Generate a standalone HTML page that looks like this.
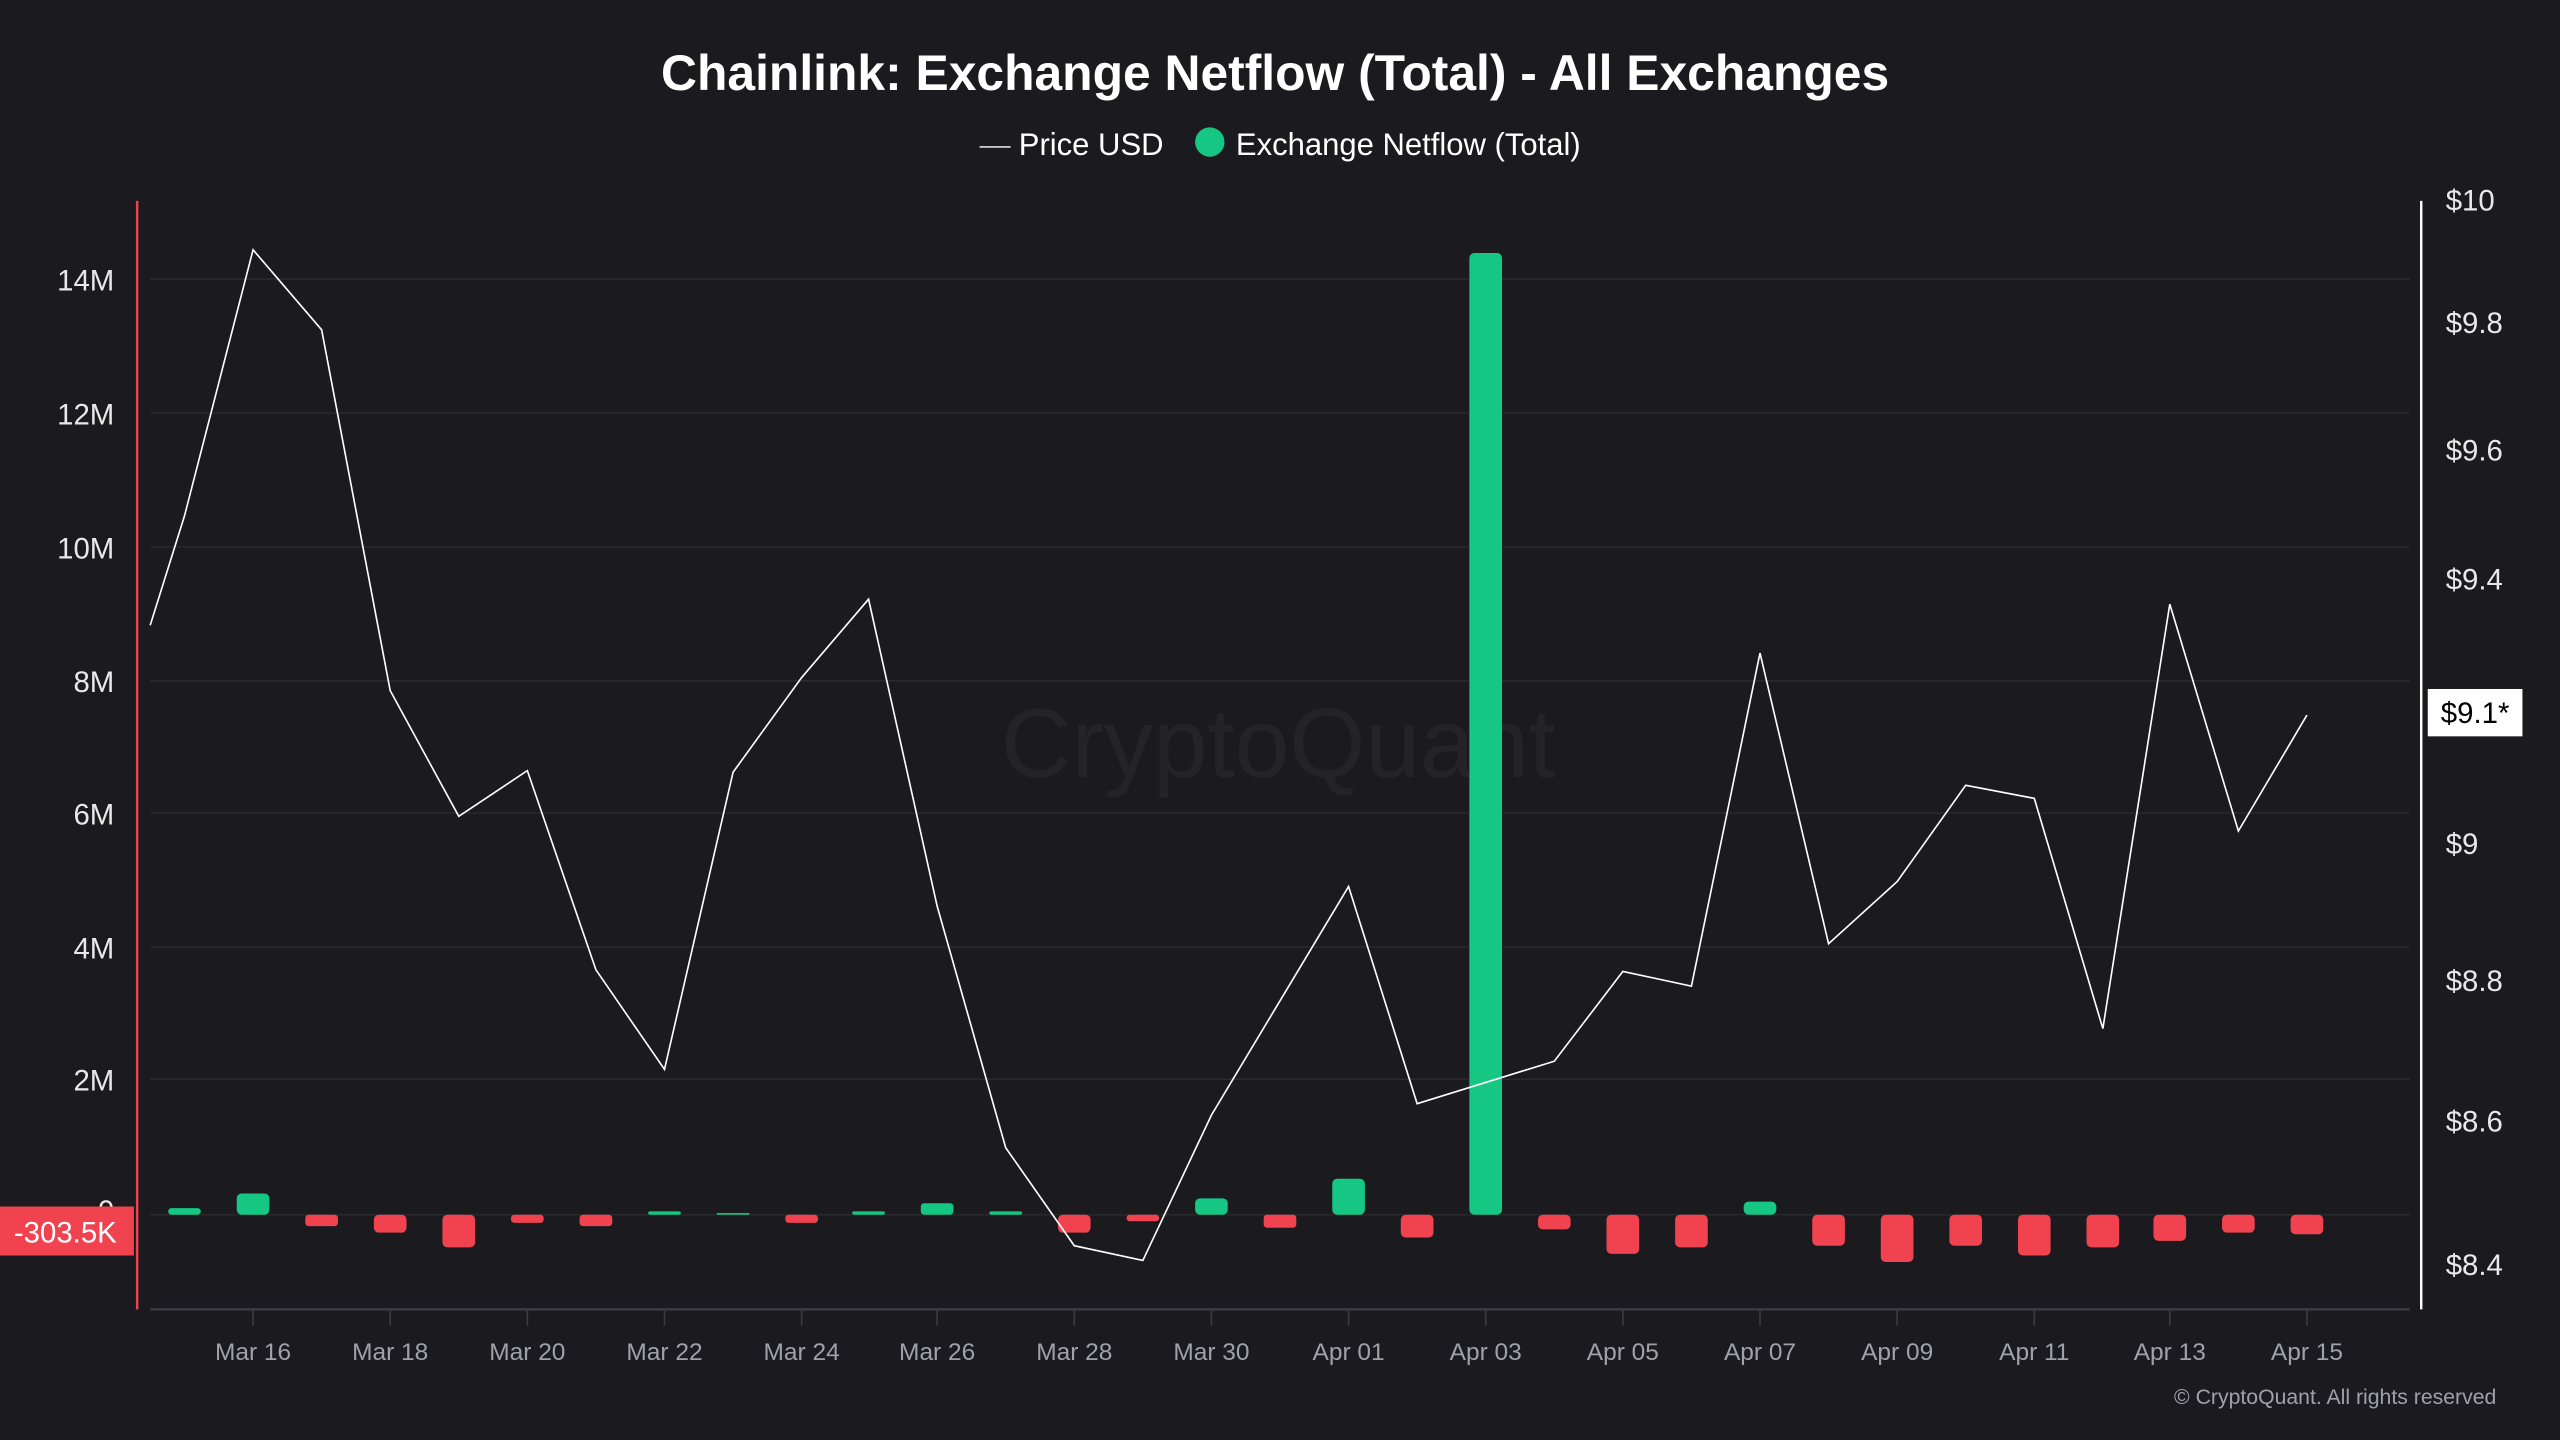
<!DOCTYPE html>
<html><head><meta charset="utf-8"><style>
html,body{margin:0;padding:0;background:#1b1b1f;}
svg{display:block;}
text{font-family:"Liberation Sans",sans-serif;}
</style></head><body>
<svg width="2560" height="1440" viewBox="0 0 1568 882" xmlns="http://www.w3.org/2000/svg">
<rect width="1568" height="882" fill="#1b1b1f"/>
<text x="781" y="55" text-anchor="middle" font-size="30.5" font-weight="bold" fill="#ffffff">Chainlink: Exchange Netflow (Total) - All Exchanges</text>
<line x1="600" y1="90" x2="619" y2="90" stroke="#e0e0e0" stroke-width="1"/>
<text x="624" y="95" font-size="19" fill="#ffffff">Price USD</text>
<circle cx="741" cy="87" r="9" fill="#16c784"/>
<text x="757" y="95" font-size="19" fill="#ffffff">Exchange Netflow (Total)</text>
<text x="783" y="476" text-anchor="middle" font-size="60" fill="#242428">CryptoQuant</text>
<g stroke="#28282d" stroke-width="1">
<line x1="92" y1="171" x2="1476" y2="171"/><line x1="92" y1="253" x2="1476" y2="253"/>
<line x1="92" y1="335" x2="1476" y2="335"/><line x1="92" y1="417" x2="1476" y2="417"/>
<line x1="92" y1="498" x2="1476" y2="498"/><line x1="92" y1="580" x2="1476" y2="580"/>
<line x1="92" y1="661" x2="1476" y2="661"/><line x1="92" y1="744" x2="1476" y2="744"/>
</g>
<g font-size="18" fill="#e8e8e8" text-anchor="end">
<text x="70" y="178">14M</text><text x="70" y="260">12M</text><text x="70" y="342">10M</text>
<text x="70" y="424">8M</text><text x="70" y="505">6M</text><text x="70" y="587">4M</text>
<text x="70" y="668">2M</text><text x="70" y="748">0</text>
</g>
<line x1="84" y1="123" x2="84" y2="802" stroke="#f0434f" stroke-width="1.5"/>
<line x1="1483" y1="123" x2="1483" y2="802" stroke="#ffffff" stroke-width="1.5"/>
<g font-size="18" fill="#e8e8e8">
<text x="1498" y="129">$10</text><text x="1498" y="204">$9.8</text><text x="1498" y="282">$9.6</text>
<text x="1498" y="361">$9.4</text><text x="1498" y="523">$9</text>
<text x="1498" y="607">$8.8</text><text x="1498" y="693">$8.6</text><text x="1498" y="781">$8.4</text>
</g>
<line x1="92" y1="802" x2="1476" y2="802" stroke="#3a3a40" stroke-width="1.5"/>
<g stroke="#3a3a40" stroke-width="1">
<line x1="155" y1="802" x2="155" y2="812"/><line x1="239" y1="802" x2="239" y2="812"/>
<line x1="323" y1="802" x2="323" y2="812"/><line x1="407" y1="802" x2="407" y2="812"/>
<line x1="491" y1="802" x2="491" y2="812"/><line x1="574" y1="802" x2="574" y2="812"/>
<line x1="658" y1="802" x2="658" y2="812"/><line x1="742" y1="802" x2="742" y2="812"/>
<line x1="826" y1="802" x2="826" y2="812"/><line x1="910" y1="802" x2="910" y2="812"/>
<line x1="994" y1="802" x2="994" y2="812"/><line x1="1078" y1="802" x2="1078" y2="812"/>
<line x1="1162" y1="802" x2="1162" y2="812"/><line x1="1246" y1="802" x2="1246" y2="812"/>
<line x1="1329" y1="802" x2="1329" y2="812"/><line x1="1413" y1="802" x2="1413" y2="812"/>
</g>
<g font-size="15" fill="#a0a0a8" text-anchor="middle">
<text x="155" y="833">Mar 16</text><text x="239" y="833">Mar 18</text><text x="323" y="833">Mar 20</text>
<text x="407" y="833">Mar 22</text><text x="491" y="833">Mar 24</text><text x="574" y="833">Mar 26</text>
<text x="658" y="833">Mar 28</text><text x="742" y="833">Mar 30</text><text x="826" y="833">Apr 01</text>
<text x="910" y="833">Apr 03</text><text x="994" y="833">Apr 05</text><text x="1078" y="833">Apr 07</text>
<text x="1162" y="833">Apr 09</text><text x="1246" y="833">Apr 11</text><text x="1329" y="833">Apr 13</text>
<text x="1413" y="833">Apr 15</text>
</g>
<text x="1529" y="860" text-anchor="end" font-size="13" fill="#a0a0a8">© CryptoQuant. All rights reserved</text>
<g fill="#16c784">
<rect x="103" y="740" width="20" height="4" rx="2"/>
<rect x="145" y="731" width="20" height="13" rx="3"/>
<rect x="397" y="742" width="20" height="2" rx="1"/>
<rect x="439" y="743" width="20" height="1"/>
<rect x="522" y="742" width="20" height="2" rx="1"/>
<rect x="564" y="737" width="20" height="7" rx="2"/>
<rect x="606" y="742" width="20" height="2" rx="1"/>
<rect x="732" y="734" width="20" height="10" rx="3"/>
<rect x="816" y="722" width="20" height="22" rx="3"/>
<rect x="900" y="155" width="20" height="589" rx="3"/>
<rect x="1068" y="736" width="20" height="8" rx="3"/>
</g>
<g fill="#f0434f">
<rect x="187" y="744" width="20" height="7" rx="2"/>
<rect x="229" y="744" width="20" height="11" rx="3"/>
<rect x="271" y="744" width="20" height="20" rx="3"/>
<rect x="313" y="744" width="20" height="5" rx="2"/>
<rect x="355" y="744" width="20" height="7" rx="2"/>
<rect x="481" y="744" width="20" height="5" rx="2"/>
<rect x="648" y="744" width="20" height="11" rx="3"/>
<rect x="690" y="744" width="20" height="4" rx="2"/>
<rect x="774" y="744" width="20" height="8" rx="2"/>
<rect x="858" y="744" width="20" height="14" rx="3"/>
<rect x="942" y="744" width="20" height="9" rx="3"/>
<rect x="984" y="744" width="20" height="24" rx="3"/>
<rect x="1026" y="744" width="20" height="20" rx="3"/>
<rect x="1110" y="744" width="20" height="19" rx="3"/>
<rect x="1152" y="744" width="20" height="29" rx="3"/>
<rect x="1194" y="744" width="20" height="19" rx="3"/>
<rect x="1236" y="744" width="20" height="25" rx="3"/>
<rect x="1278" y="744" width="20" height="20" rx="3"/>
<rect x="1319" y="744" width="20" height="16" rx="3"/>
<rect x="1361" y="744" width="20" height="11" rx="3"/>
<rect x="1403" y="744" width="20" height="12" rx="3"/>
</g>
<polyline fill="none" stroke="#ffffff" stroke-width="1" points="92,383 113,316 155,153 197,202 239,423 281,500 323,472 365,594 407,655 449,473 491,415 532,367 574,555 616,703 658,763 700,772 742,683 784,613 826,543 868,676 910,663 952,650 994,595 1036,604 1078,400 1120,578 1162,540 1204,481 1246,489 1288,630 1329,370 1371,509 1413,438"/>
<rect x="0" y="739" width="82" height="30" fill="#f0434f"/>
<text x="40" y="761" text-anchor="middle" font-size="18" fill="#ffffff">-303.5K</text>
<rect x="1487" y="422" width="58" height="29" fill="#ffffff"/>
<text x="1516" y="443" text-anchor="middle" font-size="18" fill="#000000">$9.1*</text>
</svg>
</body></html>
